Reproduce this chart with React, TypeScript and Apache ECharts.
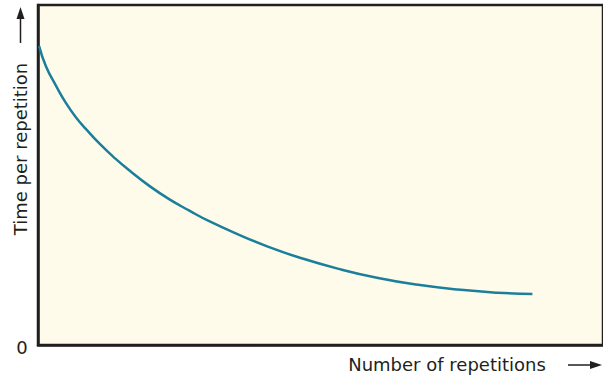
import React, { useEffect, useRef } from "react";
import * as echarts from "echarts";

const repetitions = [0.2, 1.4, 3.2, 4.9, 6.7, 8.5, 10.9, 13.7, 16.2, 19.7, 23.2, 26.8, 30.3, 35.6, 40.9, 46.1, 53.2, 60.2, 67.3, 74.3, 81.3, 87.5];
const timePerRep = [87.9, 82.0, 76.2, 71.3, 67.0, 63.5, 59.2, 54.8, 51.3, 46.8, 42.9, 39.5, 36.4, 32.4, 28.8, 25.8, 22.4, 19.7, 17.7, 16.3, 15.4, 15.0];
const xTitle = "Number of repetitions";
const yTitle = "Time per repetition";
const originLabel = "0";

export default function App() {
  const ref = useRef<HTMLDivElement>(null);
  useEffect(() => {
    document.body.style.margin = "0";
    if (!ref.current) return;
    const chart = echarts.init(ref.current, null, { renderer: "svg" });
    const ink = "#231f20";
    const font = "'DejaVu Sans', sans-serif";
    chart.setOption({
      animation: false,
      grid: {
        left: 38,
        right: -3,
        top: 5,
        bottom: 32,
        show: true,
        backgroundColor: "#fffbea",
        borderColor: ink,
        borderWidth: 2.5,
      },
      xAxis: {
        type: "value",
        min: 0,
        max: 100,
        axisLine: { show: true, lineStyle: { color: ink, width: 2.5 } },
        axisTick: { show: false },
        axisLabel: { show: false },
        splitLine: { show: false },
      },
      yAxis: {
        type: "value",
        min: 0,
        max: 100,
        axisLine: { show: true, lineStyle: { color: ink, width: 2.5 } },
        axisTick: { show: false },
        axisLabel: { show: false },
        splitLine: { show: false },
      },
      series: [
        {
          type: "line",
          data: repetitions.map((x, i) => [x, timePerRep[i]]),
          smooth: 0.5,
          showSymbol: false,
          lineStyle: { color: "#1b7f9b", width: 2.5 },
        },
      ],
      graphic: [
        {
          type: "text",
          x: 22,
          y: 347,
          style: { text: originLabel, font: `18px ${font}`, fill: ink, align: "center", verticalAlign: "middle" },
        },
        {
          type: "text",
          x: 447,
          y: 364,
          style: { text: xTitle, font: `18px ${font}`, fill: ink, align: "center", verticalAlign: "middle" },
        },
        { type: "line", shape: { x1: 568, y1: 365, x2: 594, y2: 365 }, style: { stroke: ink, lineWidth: 1.5 } },
        { type: "polygon", shape: { points: [[602, 365], [590, 361], [590, 369]] }, style: { fill: ink } },
        {
          type: "text",
          x: 20,
          y: 149,
          rotation: Math.PI / 2,
          style: { text: yTitle, font: `18px ${font}`, fill: ink, align: "center", verticalAlign: "middle" },
        },
        { type: "line", shape: { x1: 20.5, y1: 43, x2: 20.5, y2: 16 }, style: { stroke: ink, lineWidth: 1.5 } },
        { type: "polygon", shape: { points: [[20.5, 7], [16.5, 19], [24.5, 19]] }, style: { fill: ink } },
      ],
    });
    return () => chart.dispose();
  }, []);
  return <div ref={ref} style={{ width: 603, height: 377 }} />;
}
